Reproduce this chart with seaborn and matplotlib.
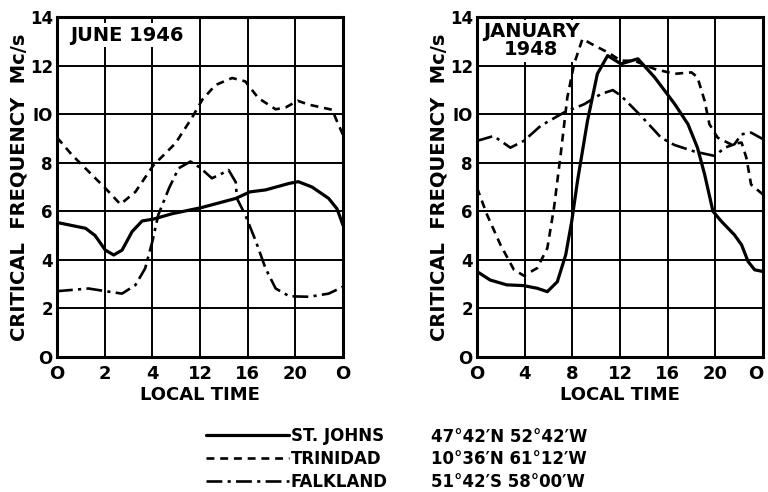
import numpy as np
import pandas as pd
import matplotlib
matplotlib.use("Agg")
import matplotlib.pyplot as plt
from matplotlib.lines import Line2D
import seaborn as sns

# ---- data: critical frequency (Mc/s) against local time (hours) ----
stations = ["ST. JOHNS", "TRINIDAD", "FALKLAND"]
positions = ["47°42′N 52°42′W", "10°36′N 61°12′W", "51°42′S 58°00′W"]

# June 1946
jun_stjohns_h = [0, 2.4, 3.2, 4.06, 4.76, 5.46, 6.3, 7.14, 8.1, 9.66, 12.1, 15.0,
                 16.2, 17.5, 19.5, 20.25, 21.4, 22.8, 23.5, 24]
jun_stjohns_v = [5.54, 5.3, 5.0, 4.4, 4.2, 4.4, 5.16, 5.6, 5.68, 5.9, 6.15, 6.53,
                 6.8, 6.88, 7.15, 7.22, 7.0, 6.53, 6.1, 5.43]
jun_trinidad_h = [0, 1.26, 4.06, 5.32, 6.58, 8.1, 9.94, 11.3, 12.2, 13.3, 14.7,
                  15.8, 16.9, 18.35, 19.2, 20.2, 21.15, 23.1, 23.5, 24]
jun_trinidad_v = [9.04, 8.32, 6.95, 6.29, 6.8, 7.9, 8.8, 9.83, 10.6, 11.2, 11.49,
                  11.35, 10.66, 10.2, 10.28, 10.55, 10.39, 10.18, 9.7, 9.15]
jun_falkland_h = [0, 2.66, 4.06, 5.46, 6.58, 7.4, 8.0, 8.5, 9.4, 10.2, 11.2, 12.0,
                  13.0, 13.9, 14.4, 15.0, 15.1, 15.8, 16.7, 17.5, 18.35, 19.5,
                  21.15, 22.8, 24]
jun_falkland_v = [2.71, 2.82, 2.71, 2.61, 2.96, 3.65, 4.75, 5.85, 6.95, 7.77, 8.05,
                  7.8, 7.36, 7.57, 7.7, 7.2, 6.53, 5.85, 4.75, 3.65, 2.82, 2.5,
                  2.48, 2.61, 2.89]

# January 1948
jan_stjohns_h = [0, 1.1, 2.5, 3.9, 5.05, 5.9, 6.74, 7.44, 7.95, 8.43, 9.27, 10.1,
                 10.96, 12.08, 13.5, 14.9, 16.6, 17.7, 18.5, 19.1, 19.8, 20.5,
                 21.6, 22.2, 22.75, 23.3, 24]
jan_stjohns_v = [3.52, 3.17, 2.97, 2.94, 2.83, 2.69, 3.1, 4.2, 5.59, 7.24, 9.72,
                 11.66, 12.41, 12.07, 12.28, 11.52, 10.41, 9.59, 8.62, 7.52, 6.0,
                 5.59, 5.03, 4.62, 3.93, 3.59, 3.52]
jan_trinidad_h = [0, 0.84, 1.97, 3.1, 3.93, 5.05, 5.9, 6.46, 7.02, 7.58, 8.15,
                  8.85, 9.83, 10.96, 12.08, 13.2, 14.9, 16.57, 18.0, 18.5, 19.1,
                  19.5, 20.2, 21.3, 22.2, 22.6, 23.0, 24]
jan_trinidad_v = [6.97, 5.86, 4.62, 3.59, 3.35, 3.66, 4.48, 6.14, 8.34, 10.69,
                  12.07, 13.1, 12.83, 12.55, 12.2, 12.2, 11.86, 11.66, 11.72,
                  11.52, 10.55, 9.59, 9.03, 8.76, 8.83, 8.21, 7.1, 6.69]
jan_falkland_h = [0, 1.4, 2.8, 3.93, 5.34, 7.3, 9.0, 10.4, 11.4, 12.08, 13.76,
                  15.45, 16.57, 18.26, 19.94, 20.8, 21.6, 22.2, 23.0, 24]
jan_falkland_v = [8.9, 9.1, 8.62, 8.9, 9.52, 10.07, 10.41, 10.83, 10.99, 10.76,
                  9.93, 9.03, 8.73, 8.46, 8.28, 8.62, 8.76, 9.17, 9.24, 8.97]

x_ticks = [0, 4, 8, 12, 16, 20, 24]
jun_xlabels = ["O", "2", "4", "12", "16", "20", "O"]
jan_xlabels = ["O", "4", "8", "12", "16", "20", "O"]
y_ticks = [0, 2, 4, 6, 8, 10, 12, 14]
y_labels = ["O", "2", "4", "6", "8", "IO", "12", "14"]


def frame(series):
    rows = []
    for name, hrs, vals in series:
        rows.append(pd.DataFrame({"hour": hrs, "freq": vals, "station": name}))
    return pd.concat(rows, ignore_index=True)


june = frame([(stations[0], jun_stjohns_h, jun_stjohns_v),
              (stations[1], jun_trinidad_h, jun_trinidad_v),
              (stations[2], jun_falkland_h, jun_falkland_v)])
january = frame([(stations[0], jan_stjohns_h, jan_stjohns_v),
                 (stations[1], jan_trinidad_h, jan_trinidad_v),
                 (stations[2], jan_falkland_h, jan_falkland_v)])

sns.set_style("white")
plt.rcParams["font.family"] = ["DejaVu Sans"]
plt.rcParams["font.weight"] = "bold"
plt.rcParams["text.color"] = "black"
plt.rcParams["axes.labelcolor"] = "black"
plt.rcParams["xtick.color"] = "black"
plt.rcParams["ytick.color"] = "black"

dash_styles = {stations[0]: "", stations[1]: (3.0, 2.2), stations[2]: (6.0, 2.0, 1.2, 2.0)}
widths = {stations[0]: 2.3, stations[1]: 1.9, stations[2]: 1.9}

fig = plt.figure(figsize=(7.68, 4.92), dpi=100)
ax1 = fig.add_axes([0.0742, 0.2744, 0.3724, 0.691])
ax2 = fig.add_axes([0.6211, 0.2744, 0.3724, 0.691])


def draw(ax, df, xlabels, title, title_xy):
    for name in stations:
        sub = df[df["station"] == name]
        sns.lineplot(data=sub, x="hour", y="freq", ax=ax, color="black",
                     linewidth=widths[name], estimator=None, sort=False,
                     dashes=False, legend=False, zorder=3)
        line = ax.lines[-1]
        if dash_styles[name]:
            line.set_dashes(dash_styles[name])
        line.set_dash_capstyle("butt")
    ax.set_xlim(0, 24)
    ax.set_ylim(0, 14)
    ax.set_xticks(x_ticks)
    ax.set_xticklabels(xlabels, fontsize=13, fontweight="bold", color="black")
    ax.set_yticks(y_ticks)
    ax.set_yticklabels(y_labels, fontsize=12, fontweight="bold", color="black")
    ax.tick_params(axis="x", length=0, pad=6)
    ax.tick_params(axis="y", length=0, pad=3)
    ax.grid(True, color="black", linewidth=1.4)
    ax.set_axisbelow(True)
    for s in ax.spines.values():
        s.set_visible(True)
        s.set_color("black")
        s.set_linewidth(2.2)
    ax.set_xlabel("LOCAL TIME", fontsize=13, fontweight="bold", labelpad=2,
                  color="black")
    ax.set_ylabel("CRITICAL  FREQUENCY  Mc/s", fontsize=14, fontweight="bold",
                  labelpad=1, color="black")
    ax.text(title_xy[0], title_xy[1], title, transform=ax.transAxes,
            fontsize=14, fontweight="bold", ha="left", va="top", color="black",
            linespacing=0.95, multialignment="center", zorder=2.5,
            bbox=dict(facecolor="white", edgecolor="none", pad=1.5))


draw(ax1, june, jun_xlabels, "JUNE 1946", (0.045, 0.975))
draw(ax2, january, jan_xlabels, "JANUARY\n1948", (0.02, 0.985))

# keep the closing midnight label inside the figure edge
ax2.get_xticklabels()[-1].set_horizontalalignment("right")

handles = [Line2D([], [], color="black", linewidth=widths[n],
                  dashes=dash_styles[n] if dash_styles[n] else (None, None))
           for n in stations]
fig.legend(handles, stations, loc="upper left", bbox_to_anchor=(0.268, 0.133),
           frameon=False, handlelength=5.0, handletextpad=0.1, labelspacing=0.3,
           borderpad=0, borderaxespad=0, prop={"size": 12, "weight": "bold"})
for i, p in enumerate(positions):
    fig.text(0.561, 0.112 - i * 0.0458, p, fontsize=12, fontweight="bold",
             ha="left", va="center", color="black")

fig.savefig("out.png", dpi=100)
